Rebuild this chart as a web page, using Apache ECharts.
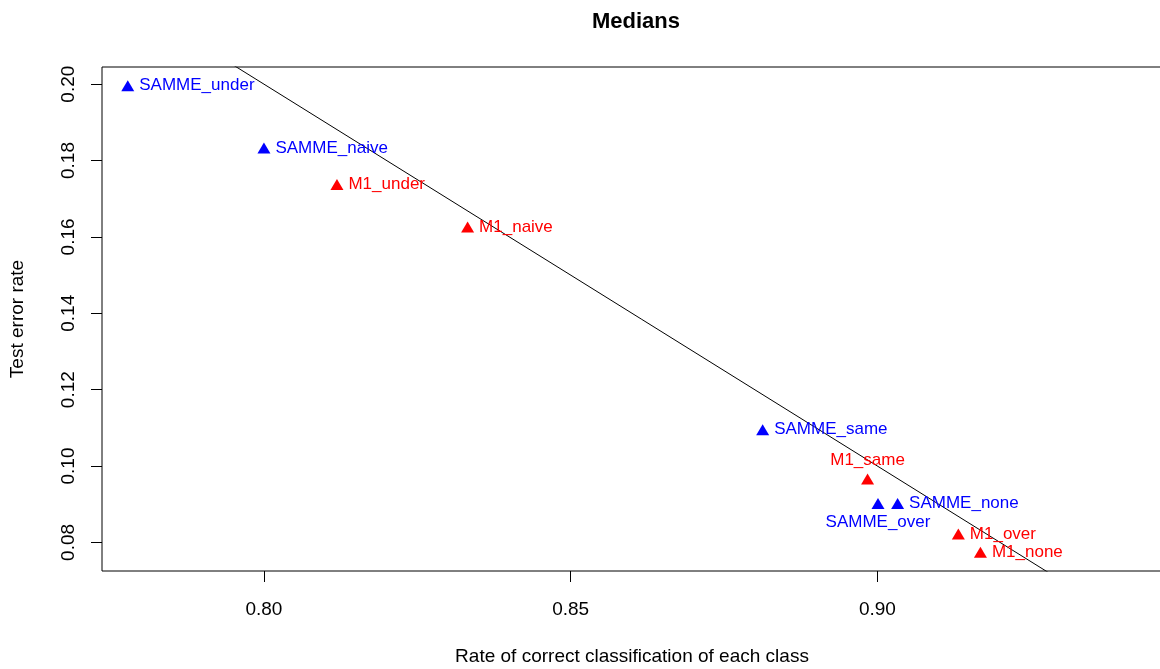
<!DOCTYPE html>
<html>
<head>
<meta charset="utf-8">
<title>Medians</title>
<script src="https://cdn.jsdelivr.net/npm/echarts@6/dist/echarts.min.js"></script>
<style>
  html, body { margin: 0; padding: 0; background: #fff; overflow: hidden; }
  /* the plot box runs past the right edge of the window, as in the original */
  #chart { width: 1170px; height: 669px; }
</style>
</head>
<body>
<div id="chart"></div>
<script>
// points: name, rate of correct classification, test error rate
const pointNames = ["SAMME_under", "SAMME_naive", "M1_under", "M1_naive", "SAMME_same",
  "M1_same", "SAMME_over", "SAMME_none", "M1_over", "M1_none"];
const correctRate = [0.7778, 0.8000, 0.8119, 0.8332, 0.8813, 0.8984, 0.9001, 0.9033, 0.9132, 0.9168];
const errorRate = [0.1996, 0.1833, 0.1737, 0.1626, 0.1095, 0.0966, 0.0902, 0.0902, 0.0822, 0.0774];
const family = ["SAMME", "SAMME", "M1", "M1", "SAMME", "M1", "SAMME", "SAMME", "M1", "M1"];

// reference line y = a + b*x
const lineIntercept = 1;
const lineSlope = -1;

const xTicks = [0.80, 0.85, 0.90];
const yTicks = [0.08, 0.10, 0.12, 0.14, 0.16, 0.18, 0.20];
const xLim = [0.78, 0.94];

const FONT = "'Liberation Sans', Arial, Helvetica, sans-serif";
const colors = { SAMME: "#0000ff", M1: "#ff0000" };
// where each label sits around its point (default: right)
const labelSide = { M1_same: "top", SAMME_over: "bottom" };

// R style 4% extension of the ranges
const xPad = (xLim[1] - xLim[0]) * 0.04;
const xMin = xLim[0] - xPad, xMax = xLim[1] + xPad;
const yLo = Math.min(...errorRate), yHi = Math.max(...errorRate);
const yPad = (yHi - yLo) * 0.04;
const yMin = yLo - yPad, yMax = yHi + yPad;

function familyData(fam) {
  const out = [];
  pointNames.forEach((n, i) => {
    if (family[i] !== fam) return;
    out.push({
      name: n,
      value: [correctRate[i], errorRate[i]],
      label: { position: labelSide[n] || "right" },
    });
  });
  return out;
}

const chart = echarts.init(document.getElementById("chart"));
chart.setOption({
  animation: false,
  textStyle: { fontFamily: FONT },
  title: {
    text: "Medians",
    left: 587,
    top: 6,
    textStyle: { fontFamily: FONT, fontSize: 22, fontWeight: "bold", color: "#000" },
  },
  grid: {
    left: 102, top: 67, width: 1060, height: 504,
    outerBoundsMode: "none",
    show: true, borderColor: "#000", borderWidth: 1, backgroundColor: "transparent",
  },
  xAxis: {
    type: "value",
    min: xMin, max: xMax,
    name: "Rate of correct classification of each class",
    nameLocation: "middle",
    nameGap: 76,
    nameTextStyle: { fontFamily: FONT, fontSize: 19, color: "#000" },
    axisLine: { show: false },
    splitLine: { show: false },
    axisTick: { show: true, length: 11, customValues: xTicks, lineStyle: { color: "#000" } },
    axisLabel: {
      customValues: xTicks, margin: 29,
      fontFamily: FONT, fontSize: 19, color: "#000",
      formatter: (v) => v.toFixed(2),
    },
  },
  yAxis: {
    type: "value",
    min: yMin, max: yMax,
    name: "Test error rate",
    nameLocation: "middle",
    nameGap: 75,
    nameTextStyle: { fontFamily: FONT, fontSize: 19, color: "#000" },
    axisLine: { show: false },
    splitLine: { show: false },
    axisTick: { show: true, length: 11, customValues: yTicks, lineStyle: { color: "#000" } },
    axisLabel: {
      customValues: yTicks, rotate: 90, margin: 24,
      fontFamily: FONT, fontSize: 19, color: "#000",
      formatter: (v) => v.toFixed(2),
    },
  },
  series: [
    {
      type: "line",
      data: [[xMin, lineIntercept + lineSlope * xMin], [xMax, lineIntercept + lineSlope * xMax]],
      showSymbol: false,
      symbol: "none",
      clip: true,
      silent: true,
      lineStyle: { color: "#000", width: 1 },
      z: 1,
    },
    ...["SAMME", "M1"].map((fam) => ({
      name: fam,
      type: "scatter",
      data: familyData(fam),
      symbol: "triangle",
      symbolSize: [13, 11],
      itemStyle: { color: colors[fam], opacity: 1 },
      label: {
        show: true,
        formatter: "{b}",
        distance: 5,
        fontFamily: FONT,
        fontSize: 17,
        color: colors[fam],
        opacity: 1,
      },
      z: 3,
    })),
  ],
});
</script>
</body>
</html>
